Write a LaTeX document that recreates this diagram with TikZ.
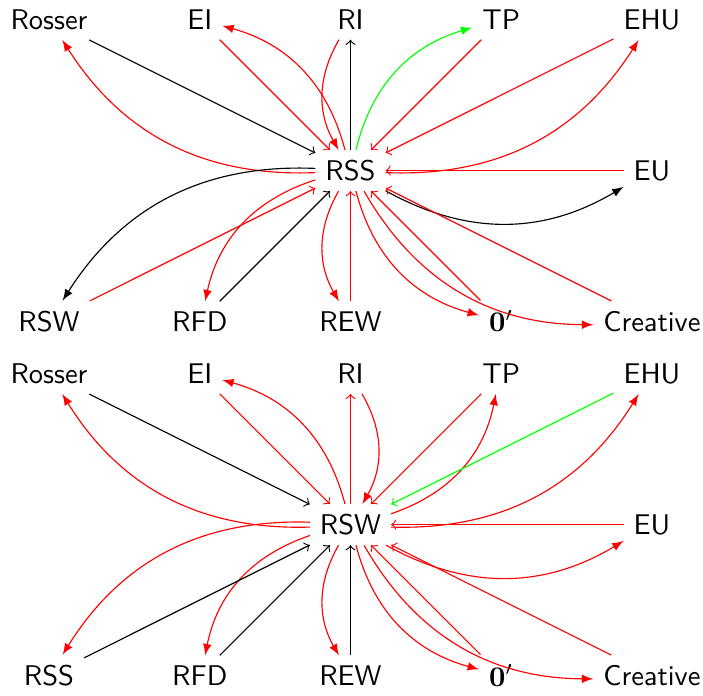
\documentclass[tikz,border=0pt]{standalone}
\usepackage{amsmath}
\usepackage{xcolor}
\usepackage{tikz}
\tikzset{
    every node/.style={font=\sffamily},
    imp/.style={->},
    back/.style={-latex}
}
\begin{document}
\begin{tikzpicture}
        \useasboundingbox (-4.325,-6.473) rectangle (4.350,2.104);
        % upper diagram: RSS in the middle
        \node (rosser) at (-3.72,1.86) {Rosser};
        \node (ei) at (-1.86,1.86) {EI};
        \node (ri) at (0,1.86) {RI};
        \node (tp) at (1.86,1.86) {TP};
        \node (ehu) at (3.72,1.86) {EHU};
        \node (rss) at (0,0) {RSS};
        \node (eu) at (3.72,0) {EU};
        \node (rsw) at (-3.72,-1.86) {RSW};
        \node (rfd) at (-1.86,-1.86) {RFD};
        \node (rew) at (0,-1.86) {REW};
        \node (zero) at (1.86,-1.86) {$\mathbf{0}'$};
        \node (creative) at (3.72,-1.86) {Creative};

        \draw[imp] (rosser) -- (rss);
        \draw[back, red] (rss) to[bend left] (rosser);
        \draw[imp, red] (ei) -- (rss);
        \draw[back, red] (rss) to[bend right] (ei);
        \draw[imp] (rss) -- (ri);
        \draw[back, red] (ri) to[bend right] (rss);
        \draw[imp, red] (tp) -- (rss);
        \draw[back, green] (rss) to[bend left] (tp);
        \draw[imp, red] (ehu) -- (rss);
        \draw[back, red] (rss) to[bend right] (ehu);
        \draw[imp, red] (eu) -- (rss);
        \draw[back] (rss) to[bend right] (eu);
        \draw[imp, red] (creative) -- (rss);
        \draw[back, red] (rss) to[bend right] (creative);
        \draw[imp, red] (zero) -- (rss);
        \draw[back, red] (rss) to[bend right] (zero);
        \draw[imp, red] (rew) -- (rss);
        \draw[back, red] (rss) to[bend right] (rew);
        \draw[imp] (rfd) -- (rss);
        \draw[back, red] (rss) to[bend right] (rfd);
        \draw[imp, red] (rsw) -- (rss);
        \draw[back] (rss) to[bend right] (rsw);

        % lower diagram: RSW in the middle
        \node (rosser2) at (-3.72,-2.51) {Rosser};
        \node (ei2) at (-1.86,-2.51) {EI};
        \node (ri2) at (0,-2.51) {RI};
        \node (tp2) at (1.86,-2.51) {TP};
        \node (ehu2) at (3.72,-2.51) {EHU};
        \node (rsw2) at (0,-4.37) {RSW};
        \node (eu2) at (3.72,-4.37) {EU};
        \node (rss2) at (-3.72,-6.23) {RSS};
        \node (rfd2) at (-1.86,-6.23) {RFD};
        \node (rew2) at (0,-6.23) {REW};
        \node (zero2) at (1.86,-6.23) {$\mathbf{0}'$};
        \node (creative2) at (3.72,-6.23) {Creative};

        \draw[imp] (rosser2) -- (rsw2);
        \draw[back, red] (rsw2) to[bend left] (rosser2);
        \draw[imp, red] (ei2) -- (rsw2);
        \draw[back, red] (rsw2) to[bend right] (ei2);
        \draw[imp, red] (rsw2) -- (ri2);
        \draw[back, red] (ri2) to[bend left] (rsw2);
        \draw[imp, red] (tp2) -- (rsw2);
        \draw[back, red] (rsw2) to[bend right] (tp2);
        \draw[imp, green] (ehu2) -- (rsw2);
        \draw[back, red] (rsw2) to[bend right] (ehu2);
        \draw[imp, red] (eu2) -- (rsw2);
        \draw[back, red] (rsw2) to[bend right] (eu2);
        \draw[imp, red] (creative2) -- (rsw2);
        \draw[back, red] (rsw2) to[bend right] (creative2);
        \draw[imp, red] (zero2) -- (rsw2);
        \draw[back, red] (rsw2) to[bend right] (zero2);
        \draw[imp] (rew2) -- (rsw2);
        \draw[back, red] (rsw2) to[bend right] (rew2);
        \draw[imp] (rfd2) -- (rsw2);
        \draw[back, red] (rsw2) to[bend right] (rfd2);
        \draw[imp] (rss2) -- (rsw2);
        \draw[back, red] (rsw2) to[bend right] (rss2);
    \end{tikzpicture}
\end{document}
